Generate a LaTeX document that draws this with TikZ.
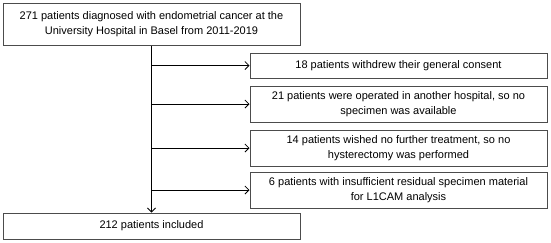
\documentclass[tikz,border=0pt]{standalone}
\usepackage{fontspec}
\setmainfont{Liberation Sans}
\usetikzlibrary{arrows.meta}

\tikzset{
  box/.style={draw=black!70, line width=1pt, inner sep=0pt, align=center,
    font=\fontsize{11}{15}\selectfont},
  wide/.style={box, minimum width=297pt},
}

\begin{document}
\begin{tikzpicture}[x=1pt,y=-1pt,>={Straight Barb[length=4pt,width=8pt]}]
      \useasboundingbox (0,0) rectangle (551,242);

      \node[wide, minimum height=42pt] (diag) at (151.5,24) {271 patients diagnosed with endometrial cancer at the\\University Hospital in Basel from 2011-2019};
      \node[wide, minimum height=26pt] (incl) at (151.5,226) {212 patients included};

      \node[wide, minimum height=25pt] (cons) at (398.5,65.5) {18 patients withdrew their general consent};
      \node[wide, minimum height=36pt] (hosp) at (398.5,104) {21 patients were operated in another hospital, so no\\specimen was available};
      \node[wide, minimum height=36pt] (treat) at (398.5,148) {14 patients wished no further treatment, so no\\hysterectomy was performed};
      \node[wide, minimum height=36pt] (spec) at (398.5,190) {6 patients with insufficient residual specimen material\\for L1CAM analysis};

      \draw[->, line width=0.8pt] (diag.south) -- (incl.north);
      \draw[->, line width=0.8pt] (diag.south |- cons.west) -- (cons.west);
      \draw[->, line width=0.8pt] (diag.south |- hosp.west) -- (hosp.west);
      \draw[->, line width=0.8pt] (diag.south |- treat.west) -- (treat.west);
      \draw[->, line width=0.8pt] (diag.south |- spec.west) -- (spec.west);
    \end{tikzpicture}
\end{document}
